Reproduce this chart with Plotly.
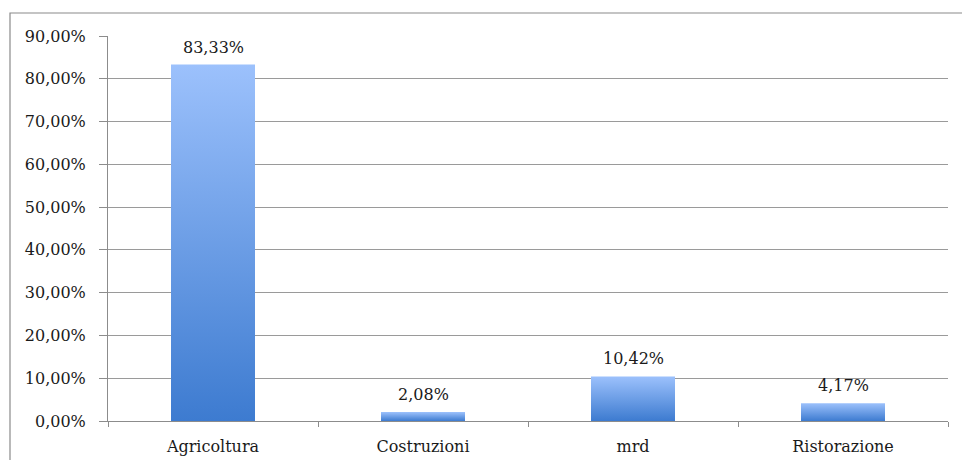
import plotly.graph_objects as go

# Share of records by sector (percent)
categories = ["Agricoltura", "Costruzioni", "mrd", "Ristorazione"]
values = [83.33, 2.08, 10.42, 4.17]
y_ticks = [0, 10, 20, 30, 40, 50, 60, 70, 80, 90]


def pct(v):
    return f"{v:.2f}%".replace(".", ",")


W, H = 962, 460
M_L, M_R, M_T, M_B = 108, 14, 36, 39
BAR_HALF = 0.2  # half of the bar width, in category units

TOP_COLOR = "#9cc1fc"
BOTTOM_COLOR = "#3d7bd0"
FONT = "DejaVu Serif"
FONT_SIZE = 16
TEXT_COLOR = "#1a1a1a"
GRID_COLOR = "#9a9a9a"

fig = go.Figure()

# Each bar is a filled rectangle with a vertical gradient from dark (base) to light (top)
for i, (cat, v) in enumerate(zip(categories, values)):
    fig.add_trace(go.Scatter(
        x=[i - BAR_HALF, i + BAR_HALF, i + BAR_HALF, i - BAR_HALF, i - BAR_HALF],
        y=[0, 0, v, v, 0],
        mode="lines",
        line=dict(width=0),
        fill="toself",
        fillgradient=dict(
            type="vertical",
            colorscale=[[0, BOTTOM_COLOR], [1, TOP_COLOR]],
            start=0,
            stop=v,
        ),
        name=cat,
        hoverinfo="skip",
        showlegend=False,
    ))
    fig.add_annotation(
        x=i, y=v, text=pct(v),
        showarrow=False, yanchor="bottom", yshift=6,
        font=dict(family=FONT, size=FONT_SIZE, color=TEXT_COLOR),
    )

fig.update_layout(
    width=W, height=H,
    margin=dict(l=M_L, r=M_R, t=M_T, b=M_B),
    paper_bgcolor="white", plot_bgcolor="white",
    font=dict(family=FONT, size=FONT_SIZE, color=TEXT_COLOR),
    showlegend=False,
)

fig.update_xaxes(
    range=[-0.5, len(categories) - 0.5],
    tickmode="array",
    tickvals=list(range(len(categories))),
    ticktext=categories,
    ticks="",
    ticklabelstandoff=11,
    automargin=False,
    showgrid=False,
    zeroline=False,
    showline=True, linecolor="#8c8c8c", linewidth=1,
    minor=dict(
        tickmode="array",
        tickvals=[k - 0.5 for k in range(len(categories) + 1)],
        ticks="outside", ticklen=5, tickcolor="#8c8c8c", showgrid=False,
    ),
    fixedrange=True,
)

fig.update_yaxes(
    range=[0, 90],
    tickmode="array",
    tickvals=y_ticks,
    ticktext=[pct(t) for t in y_ticks],
    ticks="outside", ticklen=8, tickcolor="#8c8c8c",
    ticklabelstandoff=10,
    automargin=False,
    showgrid=True, gridcolor=GRID_COLOR, gridwidth=1,
    zeroline=False,
    showline=True, linecolor="#8c8c8c", linewidth=1,
    fixedrange=True,
)

# Outer frame of the chart area
plot_w = W - M_L - M_R
plot_h = H - M_T - M_B
fig.add_shape(
    type="rect", xref="paper", yref="paper",
    x0=(10 - M_L) / plot_w, x1=(W + 20 - M_L) / plot_w,
    y0=-(M_B + 20) / plot_h, y1=(H - M_B - 13) / plot_h,
    line=dict(color="#8a8a8a", width=1.2), fillcolor="rgba(0,0,0,0)",
    layer="below",
)

fig.write_html("out.html")
